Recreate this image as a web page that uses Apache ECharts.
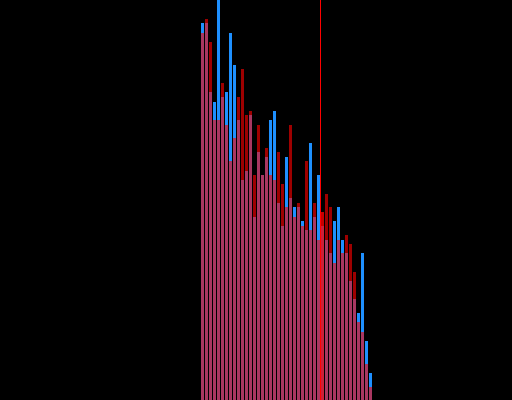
<!DOCTYPE html>
<html>
<head>
<meta charset="utf-8">
<style>html,body{margin:0;padding:0;background:#000;}#chart{width:512px;height:400px;}</style>
<script src="https://cdn.jsdelivr.net/npm/echarts@6/dist/echarts.min.js"></script>
</head>
<body>
<div id="chart"></div>
<script>
var categories = [];
for (var i = 0; i < 43; i++) categories.push(String(i));
var blueValues = [377,377,308,298,400,303,308,367,335,280,220,229,285,183,248,225,243,280,289,197,174,243,202,193,193,179,170,257,183,225,174,160,147,179,193,160,147,119,101,87,147,59,27];
var redValues  = [367,381,358,280,280,317,275,239,262,303,331,285,289,225,275,225,252,225,220,248,216,193,275,183,197,174,239,170,197,160,188,206,193,137,160,147,165,156,128,78,68,36,13];
var highlightIndex = 30;
var markerPosition = 30;

var chart = echarts.init(document.getElementById('chart'), null, {renderer: 'canvas'});
var redData = redValues.map(function (v, i) {
  if (i === highlightIndex) return {value: v, itemStyle: {color: 'rgba(255,0,0,0.78)'}};
  return v;
});
chart.setOption({
  backgroundColor: '#000000',
  animation: false,
  grid: {left: 200.5, width: 172, top: 0, bottom: 0},
  xAxis: [
    {type: 'category', data: categories, show: false},
    {type: 'value', min: 0, max: categories.length, show: false}
  ],
  yAxis: {type: 'value', min: 0, max: 400, show: false},
  series: [
    {type: 'bar', data: blueValues, barWidth: 3, itemStyle: {color: 'rgb(30,144,255)'}},
    {type: 'bar', data: redData, barWidth: 3, barGap: '-100%', itemStyle: {color: 'rgba(255,0,0,0.62)'}},
    {type: 'line', xAxisIndex: 1, data: [[markerPosition, 0], [markerPosition, 400]], symbol: 'none',
     lineStyle: {color: '#ff0000', width: 1}, z: 5}
  ]
});
</script>
</body>
</html>
